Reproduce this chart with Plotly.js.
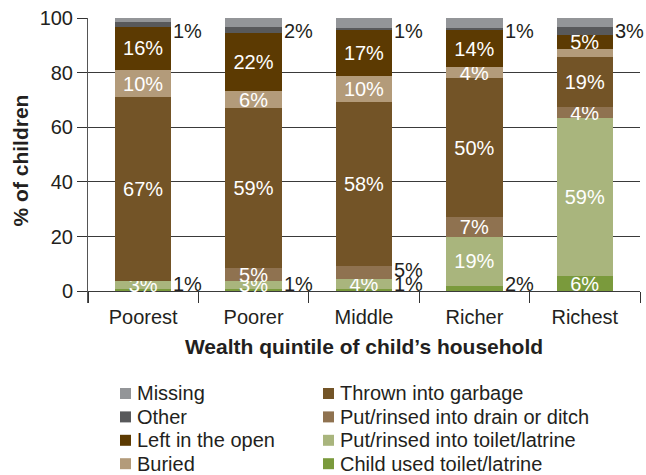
<!DOCTYPE html>
<html>
<head>
<meta charset="utf-8">
<script src="https://cdn.plot.ly/plotly-3.0.1.min.js"></script>
<style>html,body{margin:0;padding:0;background:#fff;}#chart{width:646px;height:475px;}</style>
</head>
<body>
<div id="chart"></div>
<script>
// ---- Data (percent of children), stacked bottom -> top ----
const categories = ['Poorest', 'Poorer', 'Middle', 'Richer', 'Richest'];

const childUsed    = [0.7, 0.8, 0.8, 1.8, 5.5];
const toiletRinsed = [2.9, 2.9, 3.6, 18.2, 57.9];
const drainDitch   = [0.0, 4.7, 4.8, 7.1, 4.0];
const garbage      = [67.4, 58.6, 60.0, 50.9, 18.3];
const buried       = [10.0, 6.3, 9.6, 4.0, 2.9];
const leftOpen     = [15.7, 21.2, 16.8, 13.6, 5.2];
const other        = [1.8, 2.2, 0.8, 0.8, 2.9];
const missing      = [1.5, 3.3, 3.6, 3.6, 3.3];

// labels printed inside the segments
const childUsedLbl = ['', '', '', '', '6%'];
const toiletLbl    = ['3%', '3%', '4%', '19%', '59%'];
const drainLbl     = ['', '5%', '', '7%', '4%'];
const garbageLbl   = ['67%', '59%', '58%', '50%', '19%'];
const buriedLbl    = ['10%', '6%', '10%', '4%', ''];
const openLbl      = ['16%', '22%', '17%', '14%', '5%'];
const otherLbl     = ['', '', '', '', ''];
const missingLbl   = ['', '', '', '', ''];

// labels printed beside the bars
const topOutsideLbl   = ['1%', '2%', '1%', '1%', '3%'];
const childOutsideLbl = ['1%', '1%', '1%', '2%', ''];
const drainOutsideLbl = ['', '', '5%', '', ''];

const seriesNames = ['Child used toilet/latrine', 'Put/rinsed into toilet/latrine',
  'Put/rinsed into drain or ditch', 'Thrown into garbage', 'Buried',
  'Left in the open', 'Other', 'Missing'];
const seriesValues = [childUsed, toiletRinsed, drainDitch, garbage, buried, leftOpen, other, missing];
const seriesLabels = [childUsedLbl, toiletLbl, drainLbl, garbageLbl, buriedLbl, openLbl, otherLbl, missingLbl];
const seriesColors = ['#7a9a3c', '#a9b57d', '#8f7250', '#735427', '#b39b7a', '#5c3a02', '#58595b', '#939598'];

// ---- Layout geometry ----
const W = 646, H = 475;
const M = {l: 88, r: 6, t: 18, b: 172};
const FONT = 'Liberation Sans, Arial, Helvetica, sans-serif';
const TXT = '#231f20';
const BARW = 0.51;
function px2x(px) { return (px - M.l) / (W - M.l - M.r); }
function py2y(py) { return (H - M.b - py) / (H - M.t - M.b); }

const traces = seriesNames.map((name, k) => ({
  type: 'bar',
  name: name,
  x: categories.map((c, i) => i),
  y: seriesValues[k],
  width: BARW,
  marker: {color: seriesColors[k], line: {width: 0}},
  text: seriesLabels[k],
  texttemplate: '%{text}',
  textposition: 'inside',
  insidetextanchor: 'middle',
  textangle: 0,
  constraintext: 'none',
  cliponaxis: false,
  textfont: {family: FONT, size: 20, color: '#ffffff'},
  hoverinfo: 'skip',
  showlegend: false
}));

const annotations = [];
categories.forEach((c, i) => {
  const xr = i + BARW / 2;
  if (topOutsideLbl[i]) annotations.push({x: xr, y: 100, xref: 'x', yref: 'y', text: topOutsideLbl[i],
    showarrow: false, xanchor: 'left', yanchor: 'top', font: {family: FONT, size: 20, color: TXT}});
  if (childOutsideLbl[i]) annotations.push({x: xr, y: 0, xref: 'x', yref: 'y', text: childOutsideLbl[i],
    showarrow: false, xanchor: 'left', yanchor: 'bottom', yshift: -6, font: {family: FONT, size: 20, color: TXT}});
  if (drainOutsideLbl[i]) annotations.push({x: xr, y: childUsed[i] + toiletRinsed[i] + drainDitch[i] / 2,
    xref: 'x', yref: 'y', text: drainOutsideLbl[i], showarrow: false, xanchor: 'left', yanchor: 'middle', yshift: 3,
    font: {family: FONT, size: 20, color: TXT}});
});

// ---- Manual two-column legend (top of stack first) ----
const shapes = [];
const legendColX = [120, 323];
const legendRow0 = 393.5, legendPitch = 23.4, SQ = 11;
for (let k = 0; k < seriesNames.length; k++) {
  const s = seriesNames.length - 1 - k;
  const col = Math.floor(k / 4), row = k % 4;
  const cy = legendRow0 + row * legendPitch;
  const x0 = legendColX[col];
  shapes.push({type: 'rect', xref: 'paper', yref: 'paper',
    x0: px2x(x0), x1: px2x(x0 + SQ), y0: py2y(cy + SQ / 2), y1: py2y(cy - SQ / 2),
    fillcolor: seriesColors[s], line: {width: 0}});
  annotations.push({xref: 'paper', yref: 'paper', x: px2x(x0 + 15), y: py2y(cy),
    xanchor: 'left', yanchor: 'middle', text: seriesNames[s], showarrow: false,
    font: {family: FONT, size: 20, color: TXT}});
}

const layout = {
  width: W, height: H,
  margin: M,
  paper_bgcolor: '#ffffff', plot_bgcolor: '#ffffff',
  barmode: 'stack',
  showlegend: false,
  font: {family: FONT, size: 20, color: TXT},
  xaxis: {
    type: 'linear',
    range: [-0.5, categories.length - 0.5],
    tickmode: 'array',
    tickvals: categories.map((c, i) => i),
    ticktext: categories,
    ticks: '', showgrid: false, zeroline: false, showline: false,
    tickfont: {family: FONT, size: 20, color: TXT},
    title: {text: 'Wealth quintile of child\u2019s household', standoff: 12,
      font: {family: FONT, size: 21, color: TXT, weight: 'bold'}},
    minor: {tickmode: 'array', tickvals: categories.map((c, i) => i - 0.5).concat([categories.length - 0.5]),
      ticks: 'inside', ticklen: 11, tickcolor: '#333333', tickwidth: 1, showgrid: false}
  },
  yaxis: {
    range: [-4.3, 100],
    tickmode: 'array', tickvals: [0, 20, 40, 60, 80, 100],
    ticks: 'outside', ticklen: 10, tickcolor: '#333333', tickwidth: 1,
    showgrid: true, gridcolor: '#3a3a3a', gridwidth: 1,
    zeroline: true, zerolinecolor: '#3a3a3a', zerolinewidth: 1,
    showline: true, linecolor: '#555555', linewidth: 1,
    tickfont: {family: FONT, size: 20, color: TXT},
    title: {text: '% of children', standoff: 5,
      font: {family: FONT, size: 21, color: TXT, weight: 'bold'}}
  },
  annotations: annotations,
  shapes: shapes
};

Plotly.newPlot('chart', traces, layout, {staticPlot: true, displayModeBar: false});
</script>
</body>
</html>
